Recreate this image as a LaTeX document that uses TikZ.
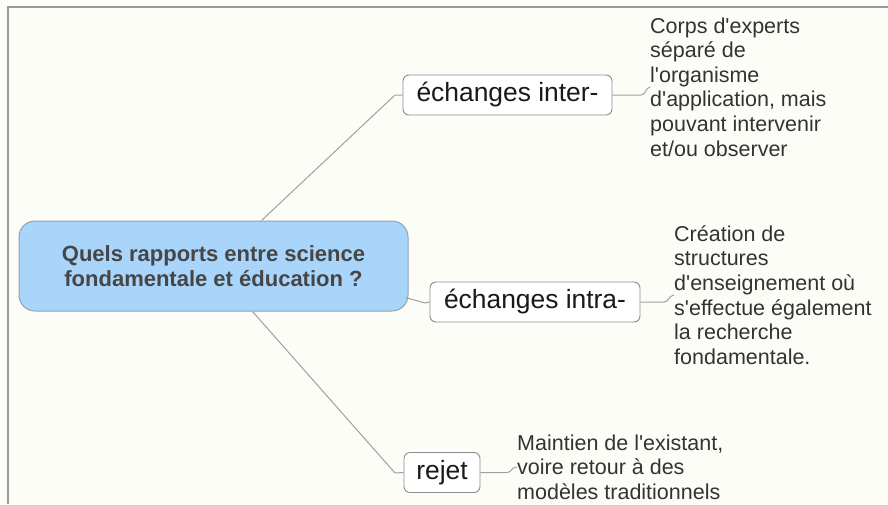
\documentclass[tikz,border=0pt]{standalone}
\usepackage{fontspec}
\setmainfont{Liberation Sans}
\usetikzlibrary{calc}
\newcommand\ap{\textquotesingle}
\definecolor{bgc}{HTML}{FDFDF8}
\definecolor{frame}{HTML}{9A9A9A}
\definecolor{conn}{HTML}{A0A0A0}
\definecolor{boxline}{HTML}{8C8C8C}
\definecolor{cfill}{HTML}{A9D5FA}
\definecolor{cline}{HTML}{8EA3B4}
\definecolor{ctext}{HTML}{464646}
\definecolor{ltext}{HTML}{333333}
\tikzset{
  x=1pt, y=-1pt,
  topic/.style={draw=cline, fill=cfill, rounded corners=16pt, line width=1pt,
    minimum width=389pt, minimum height=90pt, align=center, text=ctext,
    font=\fontsize{22}{25.5}\selectfont\bfseries, inner sep=0pt},
  sub/.style={draw=boxline, fill=white, rounded corners=6pt, line width=0.9pt,
    minimum height=40pt, inner sep=0pt, text=black!90,
    font=\fontsize{26.4}{30}\selectfont},
  leaf/.style={anchor=west, align=left, inner sep=0pt, text=ltext,
    font=\fontsize{21.5}{24.6}\selectfont},
  conn/.style={draw=conn, line width=1pt},
}
\begin{document}
\begin{tikzpicture}
\useasboundingbox (0,0) rectangle (888,504);
\fill[bgc] (0,0) rectangle (888,504);
\draw[frame, line width=2pt] (8,504) -- (8,7) -- (888,7);

\node[topic] (central) at (213.5,266) {Quels rapports entre science\\fondamentale et éducation ?};
\node[sub, minimum width=209pt] (inter) at (507.5,95) {échanges inter-};
\node[sub, minimum width=210pt] (intra) at (535,302) {échanges intra-};
\node[sub, minimum width=76pt] (rejet) at (442,472.5) {rejet};

\node[leaf] (t1) at (650,87) {Corps d\ap experts\\séparé de\\l\ap organisme\\d\ap application, mais\\pouvant intervenir\\et/ou observer};
\node[leaf] (t2) at (674,295) {Création de\\structures\\d\ap enseignement où\\s\ap effectue également\\la recherche\\fondamentale.};
\node[leaf] (t3) at (517,467) {Maintien de l\ap existant,\\voire retour à des\\modèles traditionnels};

\coordinate (c1) at ($(central.north west)+(243,0)$);
\coordinate (c2) at ($(central.south east)+(-3,-14)$);
\coordinate (c3) at ($(central.south west)+(234,0)$);

\draw[conn] (c1) -- (395,95) -- (inter.west);
\draw[conn] (c2) -- (425,303) -- (intra.west);
\draw[conn] (c3) -- (395,473) -- (rejet.west);

\draw[conn] (inter.east) -- (641,95) .. controls (646,95) and (645,88) .. (t1.west);
\draw[conn] (intra.east) -- (664,302) .. controls (669,302) and (668,296) .. (t2.west);
\draw[conn] (rejet.east) -- (507,472.5) .. controls (512,472.5) and (511,467) .. (t3.west);
\end{tikzpicture}
\end{document}
